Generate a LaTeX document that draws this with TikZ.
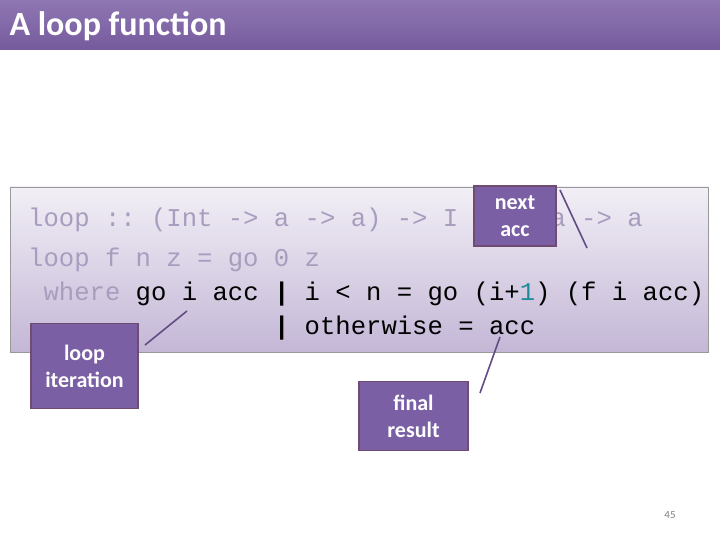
\documentclass[tikz,border=0pt]{standalone}
\usepackage{fontspec}
\setmainfont{Carlito}
\setmonofont{Liberation Mono}
\begin{document}
\begin{tikzpicture}[x=1pt,y=-1pt,
  callout/.style={draw=black!60!violet!70, line width=1.5pt, fill=purpleA, text=white, font=\fontsize{22}{25}\selectfont\bfseries, align=center, inner sep=0pt},
  code/.style={anchor=base west, inner sep=0pt, font=\fontsize{25.6}{28}\selectfont\ttfamily},
  pointer/.style={draw=purpleA!80!black, line width=1.6pt}]
\definecolor{purpleA}{HTML}{7B5FA5}
\definecolor{greytext}{HTML}{A89DBE}
\definecolor{teal1}{HTML}{1F8A9A}
\useasboundingbox (0,0) rectangle (720,540);
\fill[white] (0,0) rectangle (720,540);
\shade[top color=purpleA!85, bottom color=purpleA!95!black] (0,0) rectangle (720,50);
\node[anchor=west, text=white, font=\fontsize{34}{38}\selectfont\bfseries] (title) at (6,26) {A loop function};
\shade[top color=purpleA!10, bottom color=purpleA!45, draw=gray!80, line width=0.8pt] (10,187) rectangle (708,352);
\node[code, text=greytext] (l1) at (28,226) {loop :: (Int -> a -> a) -> I};
\node[code, text=greytext] (l1b) at (28,226) {\hphantom{xxxxxxxxxxxxxxxxxxxxxxxxxxxxxxxxxx}a -> a};
\node[code, text=greytext] (l2) at (28,266) {loop f n z = go 0 z};
\node[code, text=black] (l3) at (28,300) {\hphantom{x}\textcolor{greytext}{where} go i acc \textbf{|} i < n = go (i+\textcolor{teal1}{1}) (f i acc)};
\node[code, text=black] (l4) at (28,334) {\hphantom{xxxxxxxxxxxxxxxx}\textbf{|} otherwise = acc};
\node[callout, minimum width=82pt, minimum height=60pt] (next) at (515,216) {next\\[2pt]acc};
\node[callout, minimum width=107pt, minimum height=85pt] (iter) at (84.5,366) {loop\\[2pt]iteration};
\node[callout, minimum width=109pt, minimum height=69pt] (final) at (413.5,416) {final\\[2pt]result};
\coordinate (p1a) at (560,190); \coordinate (p1b) at (587,248);
\coordinate (p2a) at (145,345); \coordinate (p2b) at (187,311);
\coordinate (p3a) at (480,393); \coordinate (p3b) at (500,337);
\draw[pointer] (p1a) -- (p1b);
\draw[pointer] (p2a) -- (p2b);
\draw[pointer] (p3a) -- (p3b);
\node[text=gray, font=\fontsize{11}{12}\selectfont] (pg) at (670,515) {45};
\end{tikzpicture}
\end{document}
